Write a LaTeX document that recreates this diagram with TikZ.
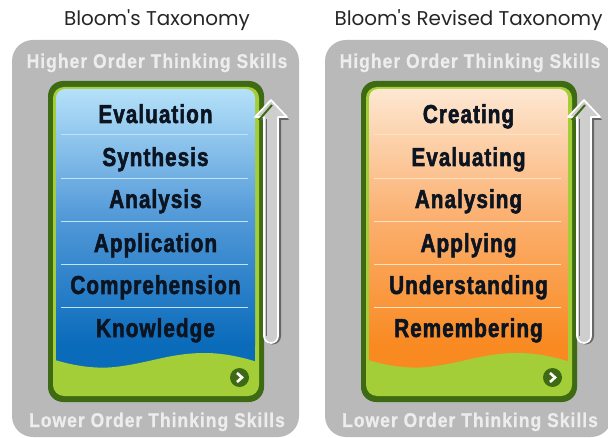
\documentclass[tikz,border=0pt]{standalone}
\usepackage{fontspec}
\setmainfont{Liberation Sans}
\newfontfamily\titlefont{Poppins}
\newfontfamily\headfont[FakeStretch=0.88,LetterSpace=5,FakeBold=0.6]{Liberation Sans}
\newfontfamily\barfont[FakeStretch=0.8,LetterSpace=4,FakeBold=2]{Liberation Sans}
\definecolor{panelgray}{HTML}{B9B9B9}
\definecolor{darkgreen}{HTML}{3F6A14}
\definecolor{limegreen}{HTML}{A3CE38}
\definecolor{inkdark}{HTML}{0B1420}
\definecolor{headwhite}{HTML}{EDEDED}
\definecolor{bluetop}{HTML}{B5E1F9}
\definecolor{bluemid}{HTML}{5299D8}
\definecolor{bluebot}{HTML}{0A6BBB}
\definecolor{bluediv}{HTML}{BFE4FA}
\definecolor{ortop}{HTML}{FDE7D2}
\definecolor{ormid}{HTML}{FBB070}
\definecolor{orbot}{HTML}{F98A22}
\definecolor{ordiv}{HTML}{FFE3C0}
\tikzset{
  x=1bp,y=-1bp,
  titletext/.style={font=\titlefont\fontsize{20}{24}\selectfont,text=black!85,inner sep=0pt,anchor=base},
  headtext/.style={font=\headfont\bfseries\fontsize{20}{24}\selectfont,text=headwhite,inner sep=0pt,anchor=base},
  leveltext/.style={font=\barfont\bfseries\fontsize{26}{30}\selectfont,text=inkdark,inner sep=0pt,anchor=base},
}
\newcommand{\panelbox}[9]{%
 \begin{scope}[xshift=#1bp]
  \fill[panelgray,rounded corners=21bp] (12,40) rectangle (299,437);
  \node[titletext] (#8title) at (#9,26) {#6};
  \node[headtext] (#8high) at (157,68) {Higher Order Thinking Skills};
  \node[headtext] (#8low) at (157,427) {Lower Order Thinking Skills};
  \fill[darkgreen,rounded corners=15bp] (48,81) rectangle (264,402);
  \fill[limegreen,rounded corners=11bp] (53,87) rectangle (259,396);
  \begin{scope}
   \clip[rounded corners=9bp] (56,89) rectangle (255,394);
   \shade[top color=#2,bottom color=#4,middle color=#3] (56,89) rectangle (255,345);
   \fill[#4] (56,344.5) rectangle (255,370);
  \end{scope}
  \fill[limegreen] (55,360) .. controls (75,366) and (95,369) .. (115,367) .. controls (150,363) and (170,353) .. (205,353) .. controls (225,353) and (245,358) .. (257,362) -- (257,385) -- (55,385) -- cycle;
  \foreach \yy in {134,178,221,264,307}{\draw[#5,line width=0.9bp] (61,\yy) -- (248,\yy);}
  \foreach \tx/\ty [count=\ii] in {#7}{\node[leveltext] (#8lvl\ii) at (155.5,\ty) {\tx};}
  \fill[darkgreen] (239.5,377.5) circle (9.5);
  \draw[white,line width=2.6bp] (237,373) -- (242,377.5) -- (237,382);
  \fill[black!60,line join=round] (273,102) -- (289,120) -- (281,120) -- (281,336) arc[start angle=0,end angle=180,radius=8.5] -- (266,120) -- (258,120) -- cycle;
  \draw[white,fill=panelgray!70!white,line width=1.7bp,line join=round] (271,100) -- (287,117) -- (278,117) -- (278,336) arc[start angle=0,end angle=180,radius=7] -- (264,117) -- (255,117) -- cycle;
  \draw[black!60,line width=1.6bp] (266.5,119) -- (266.5,336);
  \draw[darkgreen,line width=2bp] (259,120) -- (272,105);
 \end{scope}}
\begin{document}
\begin{tikzpicture}
\useasboundingbox (0,0) rectangle (608,438);
\clip (0,0) rectangle (608,438);
\fill[white] (0,0) rectangle (608,438);
\panelbox{0}{bluetop}{bluemid}{bluebot}{bluediv}{Bloom's Taxonomy}{Evaluation/123,Synthesis/166,Analysis/208,Application/252,Comprehension/294,Knowledge/337}{a}{157}
\panelbox{313}{ortop}{ormid}{orbot}{ordiv}{Bloom's Revised Taxonomy}{Creating/123,Evaluating/166,Analysing/208,Applying/252,Understanding/294,Remembering/337}{b}{155.5}
\end{tikzpicture}
\end{document}
